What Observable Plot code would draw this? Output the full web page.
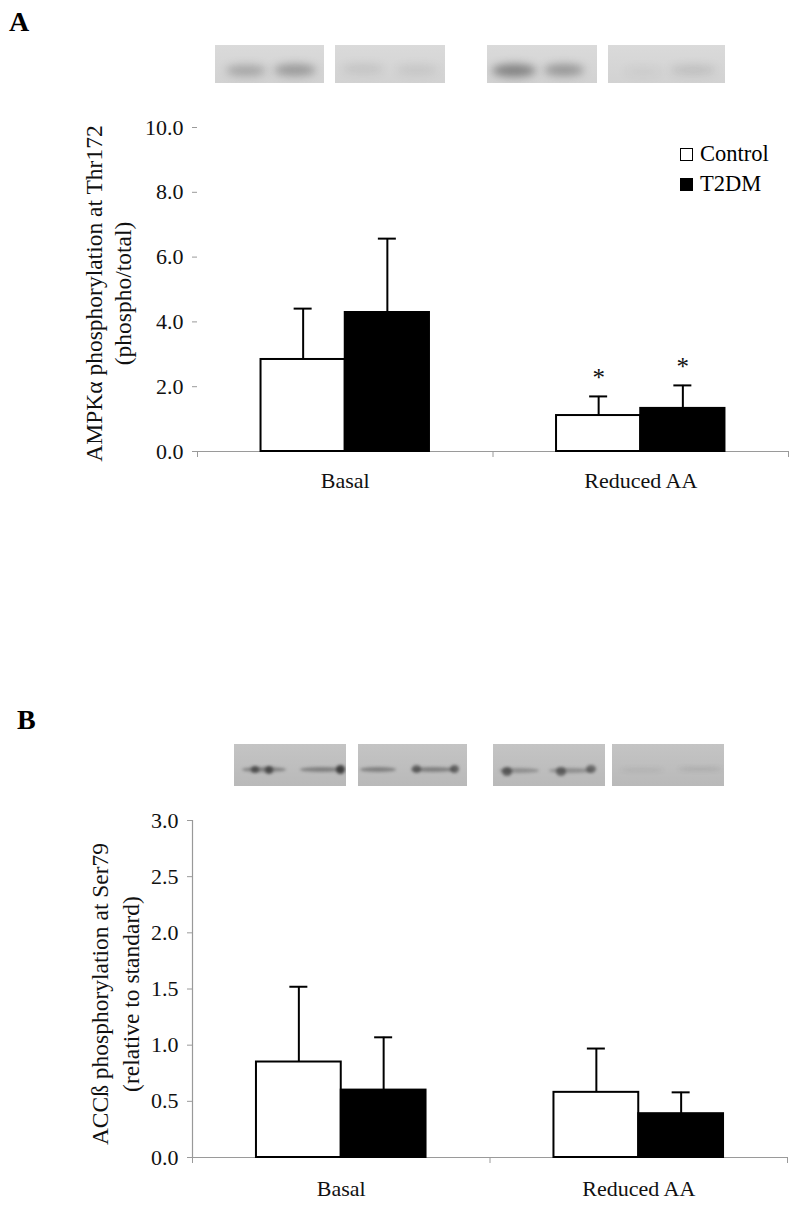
<!DOCTYPE html>
<html><head><meta charset="utf-8">
<script src="https://cdn.jsdelivr.net/npm/d3@7"></script>
<script src="https://cdn.jsdelivr.net/npm/@observablehq/plot@0.6"></script>
<style>
body{margin:0;background:#fff;font-family:"Liberation Serif","DejaVu Serif",serif;}
#page{position:relative;width:800px;height:1209px;overflow:hidden;background:#fff}
.abs{position:absolute}
.panel{position:absolute;font-weight:bold;font-size:28px;line-height:1}
.blot{position:absolute;overflow:hidden}
.band{position:absolute;border-radius:50%}
.leg{position:absolute;font-size:22.5px;line-height:1;display:flex;align-items:center;white-space:nowrap}
.sw{width:11px;height:11px;border:1.5px solid #000;margin-right:7px;box-sizing:content-box}
</style></head><body><div id="page"></div>
<script>
// ---------- data ----------
const groups = ["Basal", "Reduced AA"];
const seriesNames = ["Control", "T2DM"];

// Panel A: AMPKα phosphorylation at Thr172 (phospho/total)
const ampkControl    = [2.84, 1.11];
const ampkControlErr = [1.57, 0.59];
const ampkT2DM       = [4.29, 1.33];
const ampkT2DMErr    = [2.28, 0.71];
const ampkControlSig = [false, true];
const ampkT2DMSig    = [false, true];
const ampkTicks = [0, 2, 4, 6, 8, 10];
const ampkTitle = ["AMPKα phosphorylation at Thr172", "(phospho/total)"];

// Panel B: ACCß phosphorylation at Ser79 (relative to standard)
const accControl    = [0.85, 0.58];
const accControlErr = [0.67, 0.39];
const accT2DM       = [0.60, 0.39];
const accT2DMErr    = [0.47, 0.19];
const accControlSig = [false, false];
const accT2DMSig    = [false, false];
const accTicks = [0, 0.5, 1.0, 1.5, 2.0, 2.5, 3.0];
const accTitle = ["ACCß phosphorylation at Ser79", "(relative to standard)"];

// ---------- helpers ----------
const FONT = "Liberation Serif, DejaVu Serif, serif";
const BAR = 0.285; // bar width as fraction of a category slot

function makeRows(means, errs, sigs) {
  return groups.flatMap((g, gi) => seriesNames.map((s, si) => ({
    group: g, gi, series: s, si,
    value: means[si][gi], err: errs[si][gi], sig: sigs[si][gi]
  })));
}
const x1 = d => d.gi + (d.si - 1) * BAR;
const x2 = d => d.gi + d.si * BAR;
const xc = d => d.gi + (d.si - 0.5) * BAR;
const up = d => d.value + d.err;

function chart(o) {
  const rows = o.rows;
  const boundaries = [-0.5, ...groups.map((g, i) => i + 0.5)];
  return Plot.plot({
    width: 800, height: o.height,
    marginTop: o.mt, marginBottom: o.mb, marginLeft: o.ml, marginRight: o.mr,
    style: {fontFamily: FONT, fontSize: "22px", color: "#000", background: "transparent", overflow: "visible"},
    x: {domain: [-0.5, groups.length - 0.5]},
    y: {domain: o.yDomain},
    color: {domain: seriesNames, range: ["#ffffff", "#000000"]},
    marks: [
      o.yLine ? Plot.frame({anchor: "left", stroke: "#999", strokeWidth: 1.2}) : null,
      Plot.ruleY([0], {stroke: "#9a9a9a", strokeWidth: 1.2}),
      Plot.axisY({ticks: o.ticks, tickSize: 5, tickPadding: 9, tickFormat: d3.format(".1f"),
                  stroke: "#9a9a9a", fill: "#111", label: null}),
      Plot.axisX(boundaries, {tickSize: 6, tickFormat: () => "", stroke: "#9a9a9a", label: null}),
      Plot.axisX(groups.map((g, i) => i), {tickSize: 0, tickPadding: o.xPad,
                  tickFormat: i => groups[i], fill: "#111", label: null}),
      Plot.rectY(rows, {x1, x2, y: "value", fill: "series", stroke: "#000", strokeWidth: 2}),
      Plot.ruleX(rows, {x: xc, y1: "value", y2: up, stroke: "#000", strokeWidth: 2}),
      Plot.ruleY(rows, {x1: xc, x2: xc, y: up, insetLeft: -9, insetRight: -9, stroke: "#000", strokeWidth: 2}),
      Plot.text(rows.filter(d => d.sig), {x: xc, y: up, text: () => "*", dy: -18, fontSize: 25, fill: "#111"}),
      Plot.text([o.title[0]], {frameAnchor: "left", rotate: -90, textAnchor: "middle", dx: o.tdx[0], dy: o.tdy, fill: "#111", fontSize: 23.5}),
      Plot.text([o.title[1]], {frameAnchor: "left", rotate: -90, textAnchor: "middle", dx: o.tdx[1], dy: o.tdy, fill: "#111", fontSize: 23.5})
    ]
  });
}

// ---------- page ----------
const page = document.getElementById("page");
function el(cls, css, html) {
  const e = document.createElement("div");
  e.className = cls; Object.assign(e.style, css);
  if (html !== undefined) e.innerHTML = html;
  page.appendChild(e); return e;
}
// decorative western-blot strips
function blot(left, top, w, h, bg, bands) {
  const b = el("blot", {left: left + "px", top: top + "px", width: w + "px", height: h + "px", background: bg});
  for (const [cx, cy, bw, bh, shade, blur] of bands) {
    const d = document.createElement("div");
    d.className = "band";
    Object.assign(d.style, {left: (cx - bw / 2) + "px", top: (cy - bh / 2) + "px", width: bw + "px", height: bh + "px",
      background: `rgba(40,40,40,${shade})`, filter: `blur(${blur}px)`});
    b.appendChild(d);
  }
}

el("panel", {left: "9px", top: "8px"}, "A");
el("panel", {left: "17px", top: "706px"}, "B");

const bgA = "linear-gradient(#dadada,#d2d2d2)";
blot(215, 45, 109, 38, bgA, [[31, 25, 40, 11, 0.28, 4], [80, 25, 42, 12, 0.35, 4]]);
blot(335, 45, 110, 38, bgA, [[28, 24, 42, 10, 0.10, 4], [82, 25, 42, 10, 0.09, 4]]);
blot(487, 45, 110, 38, bgA, [[27, 25, 44, 13, 0.48, 4], [77, 25, 40, 12, 0.36, 4]]);
blot(608, 45, 117, 38, bgA, [[35, 26, 38, 9, 0.05, 4], [85, 25, 46, 10, 0.13, 4]]);

const bgB = "linear-gradient(#c4c4c4,#b9b9b9)";
blot(234, 744, 112, 42, bgB, [[30, 25, 44, 5, 0.40, 1.8], [21, 25, 8, 7, 0.6, 1.8], [35, 26, 8, 8, 0.65, 1.8], [88, 25, 44, 5, 0.40, 1.8], [106, 25, 9, 9, 0.8, 1.8]]);
blot(358, 744, 109, 42, bgB, [[20, 25, 36, 5, 0.40, 1.8], [75, 25, 44, 5, 0.40, 1.8], [58, 25, 9, 8, 0.55, 1.8], [96, 25, 9, 8, 0.6, 1.8]]);
blot(493, 744, 112, 42, bgB, [[26, 26, 40, 5, 0.30, 1.8], [14, 27, 10, 9, 0.6, 1.8], [78, 26, 44, 5, 0.30, 1.8], [68, 27, 10, 9, 0.55, 1.8], [98, 25, 10, 8, 0.55, 1.8]]);
blot(612, 744, 112, 42, bgB, [[30, 26, 44, 4, 0.08, 2], [88, 25, 44, 4, 0.12, 2]]);

// legend
el("leg", {left: "680px", top: "143px"}, '<span class="sw" style="background:#fff"></span>Control');
el("leg", {left: "680px", top: "173px"}, '<span class="sw" style="background:#000"></span>T2DM');

// charts
const plotA = chart({
  rows: makeRows([ampkControl, ampkT2DM], [ampkControlErr, ampkT2DMErr], [ampkControlSig, ampkT2DMSig]),
  yDomain: [0, 10], ticks: ampkTicks, height: 520, mt: 127, mb: 69, ml: 197, mr: 12,
  yLine: false, xPad: 21, title: ampkTitle, tdx: [-103, -74], tdy: 4
});
const wrapA = el("abs", {left: "0px", top: "0px"});
wrapA.appendChild(plotA);

const plotB = chart({
  rows: makeRows([accControl, accT2DM], [accControlErr, accT2DMErr], [accControlSig, accT2DMSig]),
  yDomain: [0, 3], ticks: accTicks, height: 609, mt: 220, mb: 52, ml: 192, mr: 13,
  yLine: true, xPad: 23, title: accTitle, tdx: [-92, -61], tdy: 5
});
const wrapB = el("abs", {left: "0px", top: "600px"});
wrapB.appendChild(plotB);
</script>
</body></html>
